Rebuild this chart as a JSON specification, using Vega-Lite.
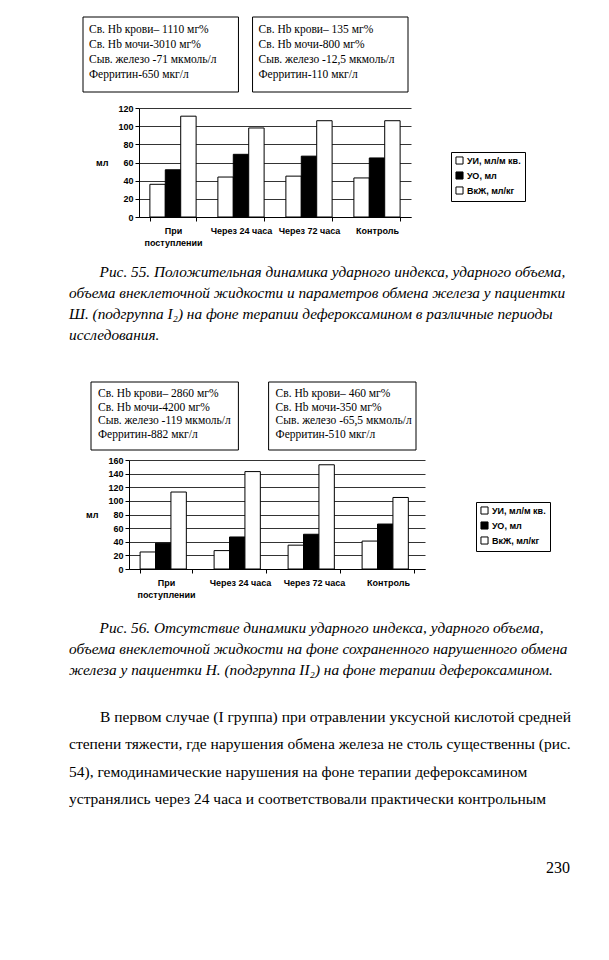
{
  "$schema": "https://vega.github.io/schema/vega-lite/v6.json",
  "background": "white",
  "padding": {"left": 68, "top": 16, "right": 0, "bottom": 0},
  "autosize": {"type": "pad"},
  "config": {
    "view": {"stroke": null},
    "font": "Liberation Sans",
    "axis": {"domainColor": "black", "tickColor": "black", "labelColor": "black", "titleColor": "black", "labelFont": "Liberation Sans", "labelFontWeight": "bold", "labelFontSize": 9, "titleFont": "Liberation Sans", "titleFontWeight": "bold", "titleFontSize": 9, "tickSize": 4},
    "legend": {"title": null, "strokeColor": "black", "padding": 4, "symbolType": "square", "symbolSize": 50, "symbolStrokeColor": "black", "symbolStrokeWidth": 1, "labelFont": "Liberation Sans", "labelFontWeight": "bold", "labelFontSize": 9, "labelColor": "black", "rowPadding": 2, "labelOffset": 3, "fillColor": "white"},
    "title": {"font": "Liberation Serif", "fontStyle": "italic", "fontWeight": "normal", "fontSize": 15.3, "lineHeight": 21, "color": "black", "orient": "bottom", "anchor": "start", "frame": "group"}
  },
  "spacing": 38,
  "resolve": {"scale": {"fill": "independent", "x": "independent", "y": "independent"}, "legend": {"fill": "independent"}},
  "title": {"text": "230", "orient": "bottom", "anchor": "end", "frame": "group", "offset": 52, "dx": 502, "font": "Liberation Serif", "fontStyle": "normal", "fontSize": 16},
  "vconcat": [
    {
      "spacing": 0,
      "resolve": {"scale": {"x": "independent", "y": "independent", "fill": "independent"}},
      "hconcat": [
        {"width": 1, "height": 1, "data": {"values": []}, "mark": "point"},
        {
          "spacing": 11,
          "resolve": {"scale": {"x": "independent", "y": "independent", "fill": "independent"}},
          "vconcat": [
            {
              "width": 272,
              "height": 75,
              "data": {"values": [
                {"box": "A", "line": 1, "text": "Св. Hb крови– 1110 мг%"},
                {"box": "A", "line": 2, "text": "Св. Hb мочи-3010 мг%"},
                {"box": "A", "line": 3, "text": "Сыв. железо -71 мкмоль/л"},
                {"box": "A", "line": 4, "text": "Ферритин-650 мкг/л"},
                {"box": "B", "line": 1, "text": "Св. Hb крови– 135 мг%"},
                {"box": "B", "line": 2, "text": "Св. Hb мочи-800 мг%"},
                {"box": "B", "line": 3, "text": "Сыв. железо -12,5 мкмоль/л"},
                {"box": "B", "line": 4, "text": "Ферритин-110 мкг/л"}
              ]},
              "layer": [
                {
                  "transform": [{"filter": "datum.line == 1"}],
                  "mark": {"type": "rect", "fill": "white", "stroke": "black", "strokeWidth": 1},
                  "encoding": {"x": {"field": "box", "type": "nominal", "scale": {"range": [-56, 269], "paddingInner": 0.083, "paddingOuter": 0}, "axis": null}}
                },
                {
                  "mark": {"type": "text", "align": "left", "baseline": "middle", "dx": 6, "font": "Liberation Serif", "fontSize": 11.5, "color": "black"},
                  "encoding": {
                    "x": {"field": "box", "type": "nominal", "bandPosition": 0, "axis": null},
                    "y": {"field": "line", "type": "ordinal", "scale": {"type": "point", "padding": 1.6, "align": 0.42}, "axis": null},
                    "text": {"field": "text"}
                  }
                }
              ]
            },
            {
              "width": 272,
              "height": 109,
              "title": {"text": ["\u200b\u00a0\u00a0\u00a0\u00a0\u00a0\u00a0\u00a0\u00a0Рис. 55. Положительная динамика ударного индекса, ударного объема,", "объема внеклеточной жидкости и параметров обмена железа у пациентки", "Ш. (подгруппа I₂) на фоне терапии дефероксамином в различные периоды", "исследования."], "dx": -70, "offset": 17},
              "data": {"values": [
                {"period": "При поступлении", "series": "УИ, мл/м кв.", "value": 36},
                {"period": "При поступлении", "series": "УО, мл", "value": 52},
                {"period": "При поступлении", "series": "ВкЖ, мл/кг", "value": 111},
                {"period": "Через 24 часа", "series": "УИ, мл/м кв.", "value": 44},
                {"period": "Через 24 часа", "series": "УО, мл", "value": 69},
                {"period": "Через 24 часа", "series": "ВкЖ, мл/кг", "value": 98},
                {"period": "Через 72 часа", "series": "УИ, мл/м кв.", "value": 45},
                {"period": "Через 72 часа", "series": "УО, мл", "value": 67},
                {"period": "Через 72 часа", "series": "ВкЖ, мл/кг", "value": 106},
                {"period": "Контроль", "series": "УИ, мл/м кв.", "value": 43},
                {"period": "Контроль", "series": "УО, мл", "value": 65},
                {"period": "Контроль", "series": "ВкЖ, мл/кг", "value": 106}
              ]},
              "mark": {"type": "bar", "stroke": "black", "strokeWidth": 1},
              "encoding": {
                "x": {"field": "period", "type": "nominal", "sort": ["При поступлении", "Через 24 часа", "Через 72 часа", "Контроль"], "scale": {"paddingInner": 0.32, "paddingOuter": 0.16}, "axis": {"title": null, "labelAngle": 0, "tickBand": "extent", "labelPadding": 5, "labelLineHeight": 12.5, "labelExpr": "datum.value == 'При поступлении' ? ['При', 'поступлении'] : datum.value"}},
                "xOffset": {"field": "series", "type": "nominal", "sort": ["УИ, мл/м кв.", "УО, мл", "ВкЖ, мл/кг"], "scale": {"paddingInner": 0}},
                "y": {"field": "value", "type": "quantitative", "scale": {"domain": [0, 120]}, "axis": {"title": "мл", "titleAngle": 0, "titleAlign": "right", "titleBaseline": "middle", "titlePadding": 10, "values": [0, 20, 40, 60, 80, 100, 120], "grid": true, "gridColor": "black", "gridWidth": 0.8}},
                "fill": {"field": "series", "type": "nominal", "sort": ["УИ, мл/м кв.", "УО, мл", "ВкЖ, мл/кг"], "scale": {"domain": ["УИ, мл/м кв.", "УО, мл", "ВкЖ, мл/кг"], "range": ["white", "black", "white"]}, "legend": {"orient": "none", "legendX": 312, "legendY": 44}}
              }
            }
          ]
        }
      ]
    },
    {
      "spacing": 0,
      "resolve": {"scale": {"x": "independent", "y": "independent", "fill": "independent"}},
      "hconcat": [
        {"width": 1, "height": 1, "data": {"values": []}, "mark": "point"},
        {
          "spacing": 5,
          "resolve": {"scale": {"x": "independent", "y": "independent", "fill": "independent"}},
          "vconcat": [
            {
              "width": 296,
              "height": 68,
              "data": {"values": [
                {"box": "A", "line": 1, "text": "Св. Hb крови– 2860 мг%"},
                {"box": "A", "line": 2, "text": "Св. Hb мочи-4200 мг%"},
                {"box": "A", "line": 3, "text": "Сыв. железо -119 мкмоль/л"},
                {"box": "A", "line": 4, "text": "Ферритин-882 мкг/л"},
                {"box": "B", "line": 1, "text": "Св. Hb крови– 460 мг%"},
                {"box": "B", "line": 2, "text": "Св. Hb мочи-350 мг%"},
                {"box": "B", "line": 3, "text": "Сыв. железо -65,5 мкмоль/л"},
                {"box": "B", "line": 4, "text": "Ферритин-510 мкг/л"}
              ]},
              "layer": [
                {
                  "transform": [{"filter": "datum.line == 1"}],
                  "mark": {"type": "rect", "fill": "white", "stroke": "black", "strokeWidth": 1},
                  "encoding": {"x": {"field": "box", "type": "nominal", "scale": {"range": [-38, 287], "paddingInner": 0.17, "paddingOuter": 0}, "axis": null}}
                },
                {
                  "mark": {"type": "text", "align": "left", "baseline": "middle", "dx": 7, "font": "Liberation Serif", "fontSize": 11.5, "color": "black"},
                  "encoding": {
                    "x": {"field": "box", "type": "nominal", "bandPosition": 0, "axis": null},
                    "y": {"field": "line", "type": "ordinal", "scale": {"type": "point", "padding": 1.18, "align": 0.45}, "axis": null},
                    "text": {"field": "text"}
                  }
                }
              ]
            },
            {
              "width": 296,
              "height": 109,
              "title": {"text": ["\u200b\u00a0\u00a0\u00a0\u00a0\u00a0\u00a0\u00a0\u00a0Рис. 56. Отсутствие динамики ударного индекса, ударного объема,", "объема внеклеточной жидкости на фоне сохраненного нарушенного обмена", "железа у пациентки Н. (подгруппа II₂) на фоне терапии дефероксамином."], "dx": -60, "offset": 21, "subtitle": ["\u200b\u00a0\u00a0\u00a0\u00a0\u00a0\u00a0\u00a0\u00a0В первом случае (I группа) при отравлении уксусной кислотой средней", "степени тяжести, где нарушения обмена железа не столь существенны (рис.", "54), гемодинамические нарушения на фоне терапии дефероксамином", "устранялись через 24 часа и соответствовали практически контрольным"], "subtitleFont": "Liberation Serif", "subtitleFontStyle": "normal", "subtitleFontSize": 15.5, "subtitleLineHeight": 27.5, "subtitleColor": "black", "subtitlePadding": 32},
              "data": {"values": [
                {"period": "При поступлении", "series": "УИ, мл/м кв.", "value": 25},
                {"period": "При поступлении", "series": "УО, мл", "value": 38},
                {"period": "При поступлении", "series": "ВкЖ, мл/кг", "value": 113},
                {"period": "Через 24 часа", "series": "УИ, мл/м кв.", "value": 27},
                {"period": "Через 24 часа", "series": "УО, мл", "value": 47},
                {"period": "Через 24 часа", "series": "ВкЖ, мл/кг", "value": 143},
                {"period": "Через 72 часа", "series": "УИ, мл/м кв.", "value": 35},
                {"period": "Через 72 часа", "series": "УО, мл", "value": 51},
                {"period": "Через 72 часа", "series": "ВкЖ, мл/кг", "value": 153},
                {"period": "Контроль", "series": "УИ, мл/м кв.", "value": 41},
                {"period": "Контроль", "series": "УО, мл", "value": 66},
                {"period": "Контроль", "series": "ВкЖ, мл/кг", "value": 105}
              ]},
              "mark": {"type": "bar", "stroke": "black", "strokeWidth": 1},
              "encoding": {
                "x": {"field": "period", "type": "nominal", "sort": ["При поступлении", "Через 24 часа", "Через 72 часа", "Контроль"], "scale": {"paddingInner": 0.3, "paddingOuter": 0.15}, "axis": {"title": null, "labelAngle": 0, "tickBand": "extent", "labelPadding": 5, "labelLineHeight": 12.5, "labelExpr": "datum.value == 'При поступлении' ? ['При', 'поступлении'] : datum.value"}},
                "xOffset": {"field": "series", "type": "nominal", "sort": ["УИ, мл/м кв.", "УО, мл", "ВкЖ, мл/кг"], "scale": {"paddingInner": 0}},
                "y": {"field": "value", "type": "quantitative", "scale": {"domain": [0, 160]}, "axis": {"title": "мл", "titleAngle": 0, "titleAlign": "right", "titleBaseline": "middle", "titlePadding": 10, "values": [0, 20, 40, 60, 80, 100, 120, 140, 160], "grid": true, "gridColor": "black", "gridWidth": 0.8}},
                "fill": {"field": "series", "type": "nominal", "sort": ["УИ, мл/м кв.", "УО, мл", "ВкЖ, мл/кг"], "scale": {"domain": ["УИ, мл/м кв.", "УО, мл", "ВкЖ, мл/кг"], "range": ["white", "black", "white"]}, "legend": {"orient": "none", "legendX": 347, "legendY": 42}}
              }
            }
          ]
        }
      ]
    }
  ]
}
